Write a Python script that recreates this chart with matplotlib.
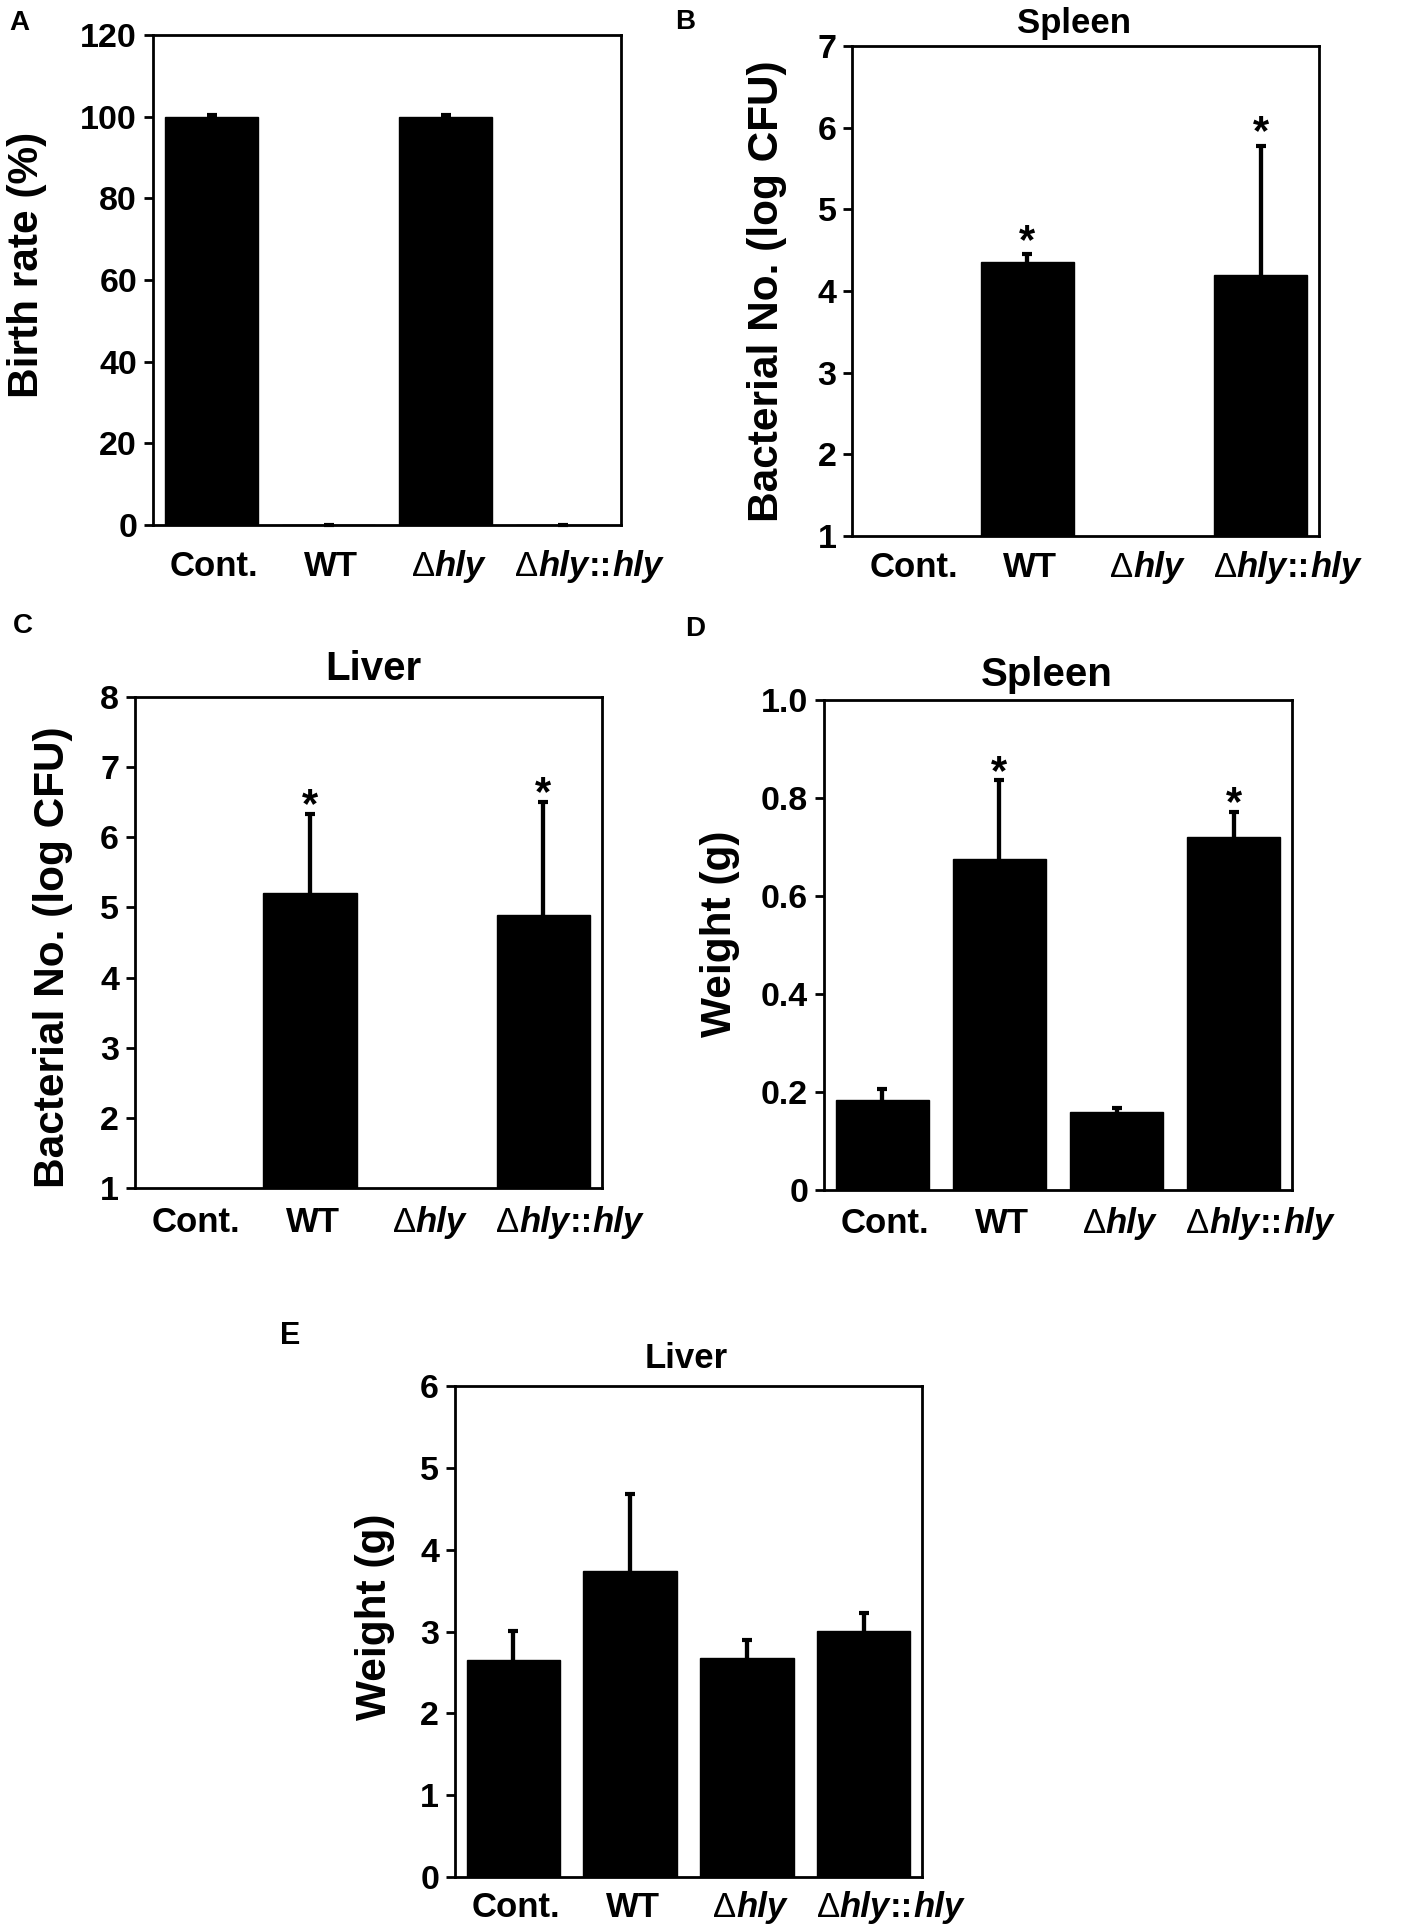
import numpy as np
import matplotlib
matplotlib.use('Agg')
import matplotlib.pyplot as plt
from matplotlib.offsetbox import TextArea, HPacker, AnnotationBbox

plt.rcParams['font.family'] = ['Liberation Sans', 'DejaVu Sans']
plt.rcParams['font.weight'] = 'bold'

# group labels, split into pieces: (text, kind)
groups = ['Cont.', 'WT', 'Δhly', 'Δhly::hly']
group_parts = [
    [('Cont.', 'plain')],
    [('WT', 'plain')],
    [('Δ', 'delta'), ('hly', 'ital')],
    [('Δ', 'delta'), ('hly', 'ital'), ('::', 'plain'), ('hly', 'ital')],
]

# A: birth rate (%)
birth_rate = [100, 0, 100, 0]
birth_rate_err = [0.4, 0, 0.4, 0]
birth_sig = [False, False, False, False]
birth_ticks = [0, 20, 40, 60, 80, 100, 120]

# B: spleen bacterial load (log CFU)
spleen_cfu = [np.nan, 4.36, np.nan, 4.20]
spleen_cfu_err = [np.nan, 0.09, np.nan, 1.58]
spleen_cfu_sig = [False, True, False, True]
spleen_cfu_ticks = [1, 2, 3, 4, 5, 6, 7]

# C: liver bacterial load (log CFU)
liver_cfu = [np.nan, 5.21, np.nan, 4.89]
liver_cfu_err = [np.nan, 1.12, np.nan, 1.62]
liver_cfu_sig = [False, True, False, True]
liver_cfu_ticks = [1, 2, 3, 4, 5, 6, 7, 8]

# D: spleen weight (g)
spleen_wt = [0.184, 0.676, 0.159, 0.721]
spleen_wt_err = [0.022, 0.160, 0.009, 0.051]
spleen_wt_sig = [False, True, False, True]
spleen_wt_ticks = [0, 0.2, 0.4, 0.6, 0.8, 1.0]
spleen_wt_ticklabels = ['0', '0.2', '0.4', '0.6', '0.8', '1.0']

# E: liver weight (g)
liver_wt = [2.65, 3.74, 2.68, 3.01]
liver_wt_err = [0.36, 0.94, 0.22, 0.21]
liver_wt_sig = [False, False, False, False]
liver_wt_ticks = [0, 1, 2, 3, 4, 5, 6]

W, H = 1410, 1932
fig = plt.figure(figsize=(W / 100, H / 100), dpi=100)


def px_rect(left, right, top, bottom):
    return [left / W, 1 - bottom / H, (right - left) / W, (bottom - top) / H]


def xlabels(ax, pad, shift_last=19):
    for i, parts in enumerate(group_parts):
        areas = []
        for txt, kind in parts:
            props = dict(fontsize=25, color='black',
                         fontweight='normal' if kind == 'delta' else 'bold',
                         fontstyle='italic' if kind == 'ital' else 'normal')
            areas.append(TextArea(txt, textprops=props))
        box = HPacker(children=areas, pad=0, sep=0, align='baseline')
        dx = shift_last if i == len(group_parts) - 1 else 2
        ab = AnnotationBbox(box, (i, 0), xycoords=ax.get_xaxis_transform(),
                            xybox=(dx, -pad), boxcoords='offset points',
                            box_alignment=(0.5, 1), frameon=False, pad=0)
        ax.add_artist(ab)


def panel(rect, vals, errs, sig, ylim, ticks, ylabel, ylab_xy,
          ticklabels=None, title=None, title_xy=None, title_size=26, xpad=12,
          star_off=5.5):
    ax = fig.add_axes(rect)
    x = np.arange(len(groups))
    vals = np.asarray(vals, dtype=float)
    errs = np.asarray(errs, dtype=float)
    ax.bar(x, vals, width=0.8, color='black', edgecolor='black', linewidth=1)
    # one-sided error bars with a cap on the upper end only
    ax.errorbar(x, vals, yerr=[np.zeros(len(x)), errs], fmt='none',
                ecolor='black', elinewidth=3.1, capsize=0)
    ax.plot(x, vals + errs, ls='none', marker='_', ms=7.2, mew=3.0,
            color='black', clip_on=False)
    for i in range(len(x)):
        if sig[i]:
            ax.annotate('*', xy=(i, vals[i] + errs[i]), xytext=(0, star_off),
                        textcoords='offset points', ha='center', va='center',
                        fontsize=30)
    ax.set_xlim(-0.5, 3.5)
    ax.set_ylim(*ylim)
    ax.set_yticks(ticks)
    if ticklabels is not None:
        ax.set_yticklabels(ticklabels)
    ax.set_xticks([])
    ax.tick_params(axis='y', direction='out', length=6.5, width=2,
                   labelsize=24.5, pad=5)
    for s in ax.spines.values():
        s.set_linewidth(2)
    ax.text(ylab_xy[0], ylab_xy[1], ylabel, transform=ax.transAxes,
            rotation=90, ha='center', va='center', fontsize=30.5)
    if title:
        ax.text(title_xy[0], title_xy[1], title, transform=ax.transAxes,
                ha='center', va='center', fontsize=title_size)
    xlabels(ax, xpad)
    return ax


panel(px_rect(153, 621, 35, 525), birth_rate, birth_rate_err, birth_sig,
      (0, 120), birth_ticks, 'Birth rate (%)', (-0.269, 0.531), xpad=18)

panel(px_rect(852.5, 1319, 46, 536), spleen_cfu, spleen_cfu_err, spleen_cfu_sig,
      (1, 7), spleen_cfu_ticks, 'Bacterial No. (log CFU)', (-0.183, 0.499),
      title='Spleen', title_xy=(0.475, 1.045), title_size=25, xpad=11,
      star_off=9)

panel(px_rect(135, 601.6, 697, 1188), liver_cfu, liver_cfu_err, liver_cfu_sig,
      (1, 8), liver_cfu_ticks, 'Bacterial No. (log CFU)', (-0.176, 0.471),
      title='Liver', title_xy=(0.51, 1.057), title_size=29, xpad=13)

panel(px_rect(824, 1292, 700, 1190), spleen_wt, spleen_wt_err, spleen_wt_sig,
      (0, 1.0), spleen_wt_ticks, 'Weight (g)', (-0.222, 0.522),
      ticklabels=spleen_wt_ticklabels,
      title='Spleen', title_xy=(0.476, 1.051), title_size=29, xpad=12)

panel(px_rect(455, 922, 1386, 1877), liver_wt, liver_wt_err, liver_wt_sig,
      (0, 6), liver_wt_ticks, 'Weight (g)', (-0.171, 0.53),
      title='Liver', title_xy=(0.495, 1.055), title_size=25, xpad=10)

# panel letters
letters = ['A', 'B', 'C', 'D', 'E']
letter_pos = [(9, 10), (675, 9), (13, 613), (685, 616), (280, 1321)]
letter_size = [20, 20, 20, 20, 22]
for letter, (lx, ly), fs in zip(letters, letter_pos, letter_size):
    fig.text(lx / W, 1 - ly / H, letter, fontsize=fs, ha='left', va='top')

fig.savefig('out.png', dpi=100)
